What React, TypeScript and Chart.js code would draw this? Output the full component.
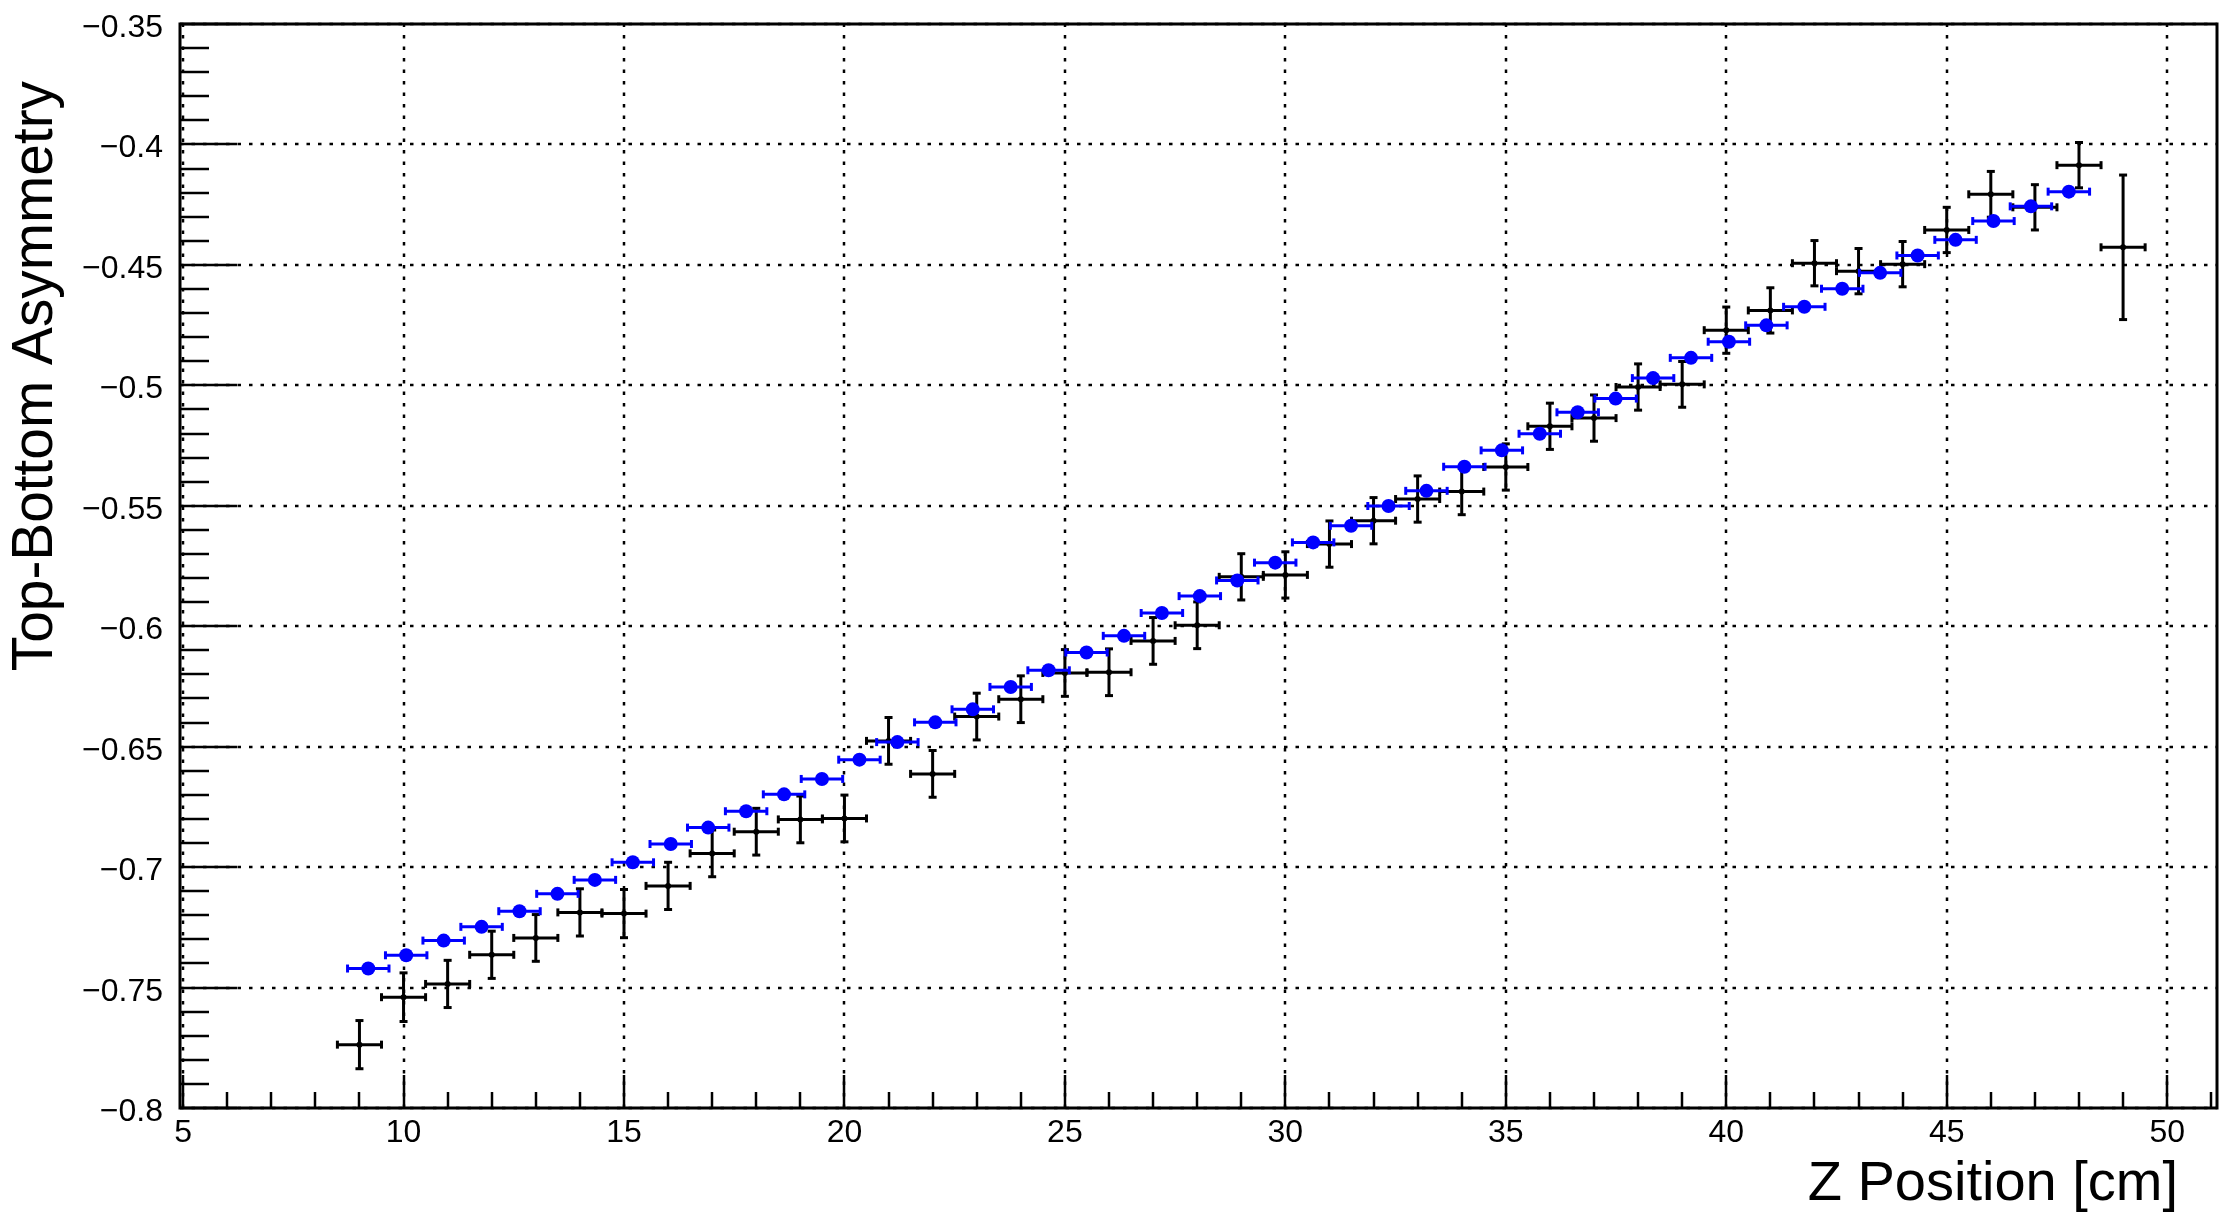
import React, { useEffect, useRef } from "react";
import { Chart, registerables } from "chart.js";

Chart.register(...registerables);

// ---- axis ticks ----
const xTicks = [5, 10, 15, 20, 25, 30, 35, 40, 45, 50];
const yTicks = [-0.8, -0.75, -0.7, -0.65, -0.6, -0.55, -0.5, -0.45, -0.4, -0.35];
const xMinorStep = 1;
const yMinorStep = 0.01;
const xTitle = "Z Position [cm]";
const yTitle = "Top-Bottom Asymmetry";

// ---- measured data (black crosses) ----
const dataX = [9, 10, 11, 12, 13, 14, 15, 16, 17, 18, 19, 20, 21, 22, 23, 24, 25, 26, 27, 28, 29, 30, 31, 32, 33, 34, 35, 36, 37, 38, 39, 40, 41, 42, 43, 44, 45, 46, 47, 48, 49];
const dataY = [
  -0.7737, -0.754, -0.7485, -0.7364, -0.7294, -0.7188, -0.7193, -0.7078, -0.6943, -0.6853,
  -0.6802, -0.6798, -0.6476, -0.6613, -0.6375, -0.6303, -0.6194, -0.6191, -0.6061, -0.5996,
  -0.5795, -0.5787, -0.5659, -0.5562, -0.5472, -0.5441, -0.5339, -0.517, -0.5136, -0.5007,
  -0.4996, -0.4771, -0.4689, -0.4493, -0.4526, -0.4497, -0.4355, -0.4207, -0.4261, -0.4086,
  -0.4427,
];
const dataYErr = [
  0.01, 0.0101, 0.0098, 0.0098, 0.0097, 0.0098, 0.01, 0.0098, 0.0097, 0.0097,
  0.0097, 0.0097, 0.0097, 0.0097, 0.0097, 0.0097, 0.0097, 0.0097, 0.0097, 0.0097,
  0.0096, 0.0096, 0.0096, 0.0096, 0.0096, 0.0096, 0.0096, 0.0096, 0.0096, 0.0096,
  0.0095, 0.0096, 0.0094, 0.0094, 0.0094, 0.0094, 0.0094, 0.0095, 0.0094, 0.0094,
  0.03,
];
const dataXErr = 0.5;

// ---- simulation (blue points) ----
const simX = [
  9.2, 10.06, 10.91, 11.77, 12.63, 13.49, 14.34, 15.2, 16.06, 16.91,
  17.77, 18.63, 19.49, 20.34, 21.2, 22.06, 22.91, 23.77, 24.63, 25.49,
  26.34, 27.2, 28.06, 28.91, 29.77, 30.63, 31.49, 32.34, 33.2, 34.06,
  34.91, 35.77, 36.63, 37.49, 38.34, 39.2, 40.06, 40.91, 41.77, 42.63,
  43.49, 44.34, 45.2, 46.06, 46.91, 47.77,
];
const simY = [
  -0.7421, -0.7366, -0.7305, -0.7248, -0.7183, -0.7111, -0.7053, -0.698, -0.6904, -0.6836,
  -0.6768, -0.6698, -0.6634, -0.6554, -0.6481, -0.6399, -0.6345, -0.6252, -0.6183, -0.6109,
  -0.604, -0.5945, -0.5875, -0.581, -0.5736, -0.5652, -0.5583, -0.5501, -0.5438, -0.5338,
  -0.527, -0.5201, -0.5112, -0.5055, -0.497, -0.4886, -0.4819, -0.4751, -0.4674, -0.4599,
  -0.4533, -0.4461, -0.4396, -0.4318, -0.4257, -0.4196,
];
const simXErr = 0.47;

const FONT = "'Liberation Sans', Arial, Helvetica, sans-serif";
const W = 2240;
const H = 1217;

function fmt(v: number): string {
  return parseFloat(v.toFixed(2)).toString().replace("-", "\u2212");
}

export default function App() {
  const ref = useRef<HTMLCanvasElement>(null);

  useEffect(() => {
    document.body.style.margin = "0";
    const canvas = ref.current!;

    const rootPlugin = {
      id: "rootStyle",
      beforeDatasetsDraw(chart: any) {
        const { ctx, chartArea: a, scales } = chart;
        const xs = scales.x;
        const ys = scales.y;
        ctx.save();
        ctx.strokeStyle = "#000";
        ctx.lineWidth = 2.5;
        ctx.setLineDash([3.5, 8]);
        for (const v of xTicks) {
          const p = Math.round(xs.getPixelForValue(v));
          ctx.beginPath();
          ctx.moveTo(p, a.bottom);
          ctx.lineTo(p, a.top);
          ctx.stroke();
        }
        for (const v of yTicks) {
          const p = Math.round(ys.getPixelForValue(v));
          ctx.beginPath();
          ctx.moveTo(a.left, p);
          ctx.lineTo(a.right, p);
          ctx.stroke();
        }
        ctx.restore();
      },
      beforeDatasetDraw(chart: any, args: any) {
        const { ctx, scales } = chart;
        const xs = scales.x;
        const ys = scales.y;
        const ds: any = chart.data.datasets[args.index];
        const cap = 4;
        ctx.save();
        ctx.strokeStyle = ds.errColor;
        ctx.lineWidth = 3;
        const seg = (x1: number, y1: number, x2: number, y2: number) => {
          ctx.beginPath();
          ctx.moveTo(x1, y1);
          ctx.lineTo(x2, y2);
          ctx.stroke();
        };
        ds.data.forEach((p: any, i: number) => {
          const px = xs.getPixelForValue(p.x);
          const py = ys.getPixelForValue(p.y);
          const ex = ds.errX ? ds.errX[i] : 0;
          const ey = ds.errY ? ds.errY[i] : 0;
          if (ex) {
            const x1 = xs.getPixelForValue(p.x - ex);
            const x2 = xs.getPixelForValue(p.x + ex);
            seg(x1, py, x2, py);
            seg(x1, py - cap, x1, py + cap);
            seg(x2, py - cap, x2, py + cap);
          }
          if (ey) {
            const y1 = ys.getPixelForValue(p.y - ey);
            const y2 = ys.getPixelForValue(p.y + ey);
            seg(px, y1, px, y2);
            seg(px - cap, y1, px + cap, y1);
            seg(px - cap, y2, px + cap, y2);
          }
        });
        ctx.restore();
      },
      afterDatasetsDraw(chart: any) {
        const { ctx, chartArea: a, scales } = chart;
        const xs = scales.x;
        const ys = scales.y;
        ctx.save();
        ctx.strokeStyle = "#000";
        ctx.lineWidth = 2.5;
        const xMin = xs.min;
        const xMax = xs.max;
        for (let v = Math.ceil(xMin / xMinorStep) * xMinorStep; v <= xMax + 1e-9; v += xMinorStep) {
          const isMajor = xTicks.some((t) => Math.abs(t - v) < 1e-6);
          const p = Math.round(xs.getPixelForValue(v));
          ctx.beginPath();
          ctx.moveTo(p, a.bottom);
          ctx.lineTo(p, a.bottom - (isMajor ? 33 : 16));
          ctx.stroke();
        }
        const yMin = ys.min;
        const yMax = ys.max;
        const n = Math.round((yMax - yMin) / yMinorStep);
        for (let k = 0; k <= n; k++) {
          const v = yMin + k * yMinorStep;
          const isMajor = yTicks.some((t) => Math.abs(t - v) < 1e-6);
          const p = Math.round(ys.getPixelForValue(v));
          ctx.beginPath();
          ctx.moveTo(a.left, p);
          ctx.lineTo(a.left + (isMajor ? 57 : 29), p);
          ctx.stroke();
        }
        ctx.lineWidth = 3;
        ctx.strokeRect(a.left, a.top, a.right - a.left, a.bottom - a.top);
        ctx.restore();
      },
      afterDraw(chart: any) {
        const { ctx, scales } = chart;
        const xs = scales.x;
        const ys = scales.y;
        ctx.save();
        ctx.fillStyle = "#000";
        ctx.textBaseline = "alphabetic";
        // tick labels
        ctx.font = `32px ${FONT}`;
        ctx.textAlign = "center";
        for (const t of xs.ticks) {
          ctx.fillText(fmt(t.value), xs.getPixelForValue(t.value), 1142);
        }
        ctx.textAlign = "right";
        for (const t of ys.ticks) {
          ctx.fillText(fmt(t.value), 163, ys.getPixelForValue(t.value) + 13);
        }
        // axis titles
        ctx.font = `56px ${FONT}`;
        ctx.textAlign = "right";
        ctx.fillText(xTitle, 2178, 1200);
        ctx.font = `56.8px ${FONT}`;
        ctx.translate(52, 81);
        ctx.rotate(-Math.PI / 2);
        ctx.textAlign = "right";
        ctx.fillText(yTitle, 0, 0);
        ctx.restore();
      },
    };

    const chart = new Chart(canvas, {
      type: "scatter",
      data: {
        datasets: [
          {
            label: "Simulation",
            data: simX.map((x, i) => ({ x, y: simY[i] })),
            backgroundColor: "#0000ff",
            borderColor: "#0000ff",
            borderWidth: 0,
            pointRadius: 7,
            pointHoverRadius: 7,
            order: 1,
            errX: simX.map(() => simXErr),
            errColor: "#0000ff",
          } as any,
          {
            label: "Data",
            data: dataX.map((x, i) => ({ x, y: dataY[i] })),
            backgroundColor: "#000",
            borderColor: "#000",
            borderWidth: 0,
            pointRadius: 3,
            pointHoverRadius: 3,
            order: 2,
            errX: dataX.map(() => dataXErr),
            errY: dataYErr,
            errColor: "#000",
          } as any,
        ],
      },
      options: {
        responsive: false,
        animation: false,
        devicePixelRatio: 1,
        events: [],
        layout: { padding: { left: 0, top: 24, right: 23, bottom: 0 } },
        plugins: {
          legend: { display: false },
          tooltip: { enabled: false },
          title: { display: false },
        },
        scales: {
          x: {
            type: "linear",
            min: 4.93,
            max: 51.13,
            grid: { display: false },
            border: { display: false },
            afterBuildTicks: (s: any) => {
              s.ticks = xTicks.map((v) => ({ value: v }));
            },
            afterFit: (s: any) => {
              s.height = 109;
            },
            ticks: { display: false, autoSkip: false },
          },
          y: {
            type: "linear",
            min: -0.8,
            max: -0.35,
            grid: { display: false },
            border: { display: false },
            afterBuildTicks: (s: any) => {
              s.ticks = yTicks.map((v) => ({ value: v }));
            },
            afterFit: (s: any) => {
              s.width = 180;
            },
            ticks: { display: false, autoSkip: false },
          },
        },
      } as any,
      plugins: [rootPlugin],
    });

    return () => chart.destroy();
  }, []);

  return (
    <div style={{ width: W, height: H, background: "#fff" }}>
      <canvas ref={ref} width={W} height={H} style={{ display: "block", width: W, height: H }} />
    </div>
  );
}
